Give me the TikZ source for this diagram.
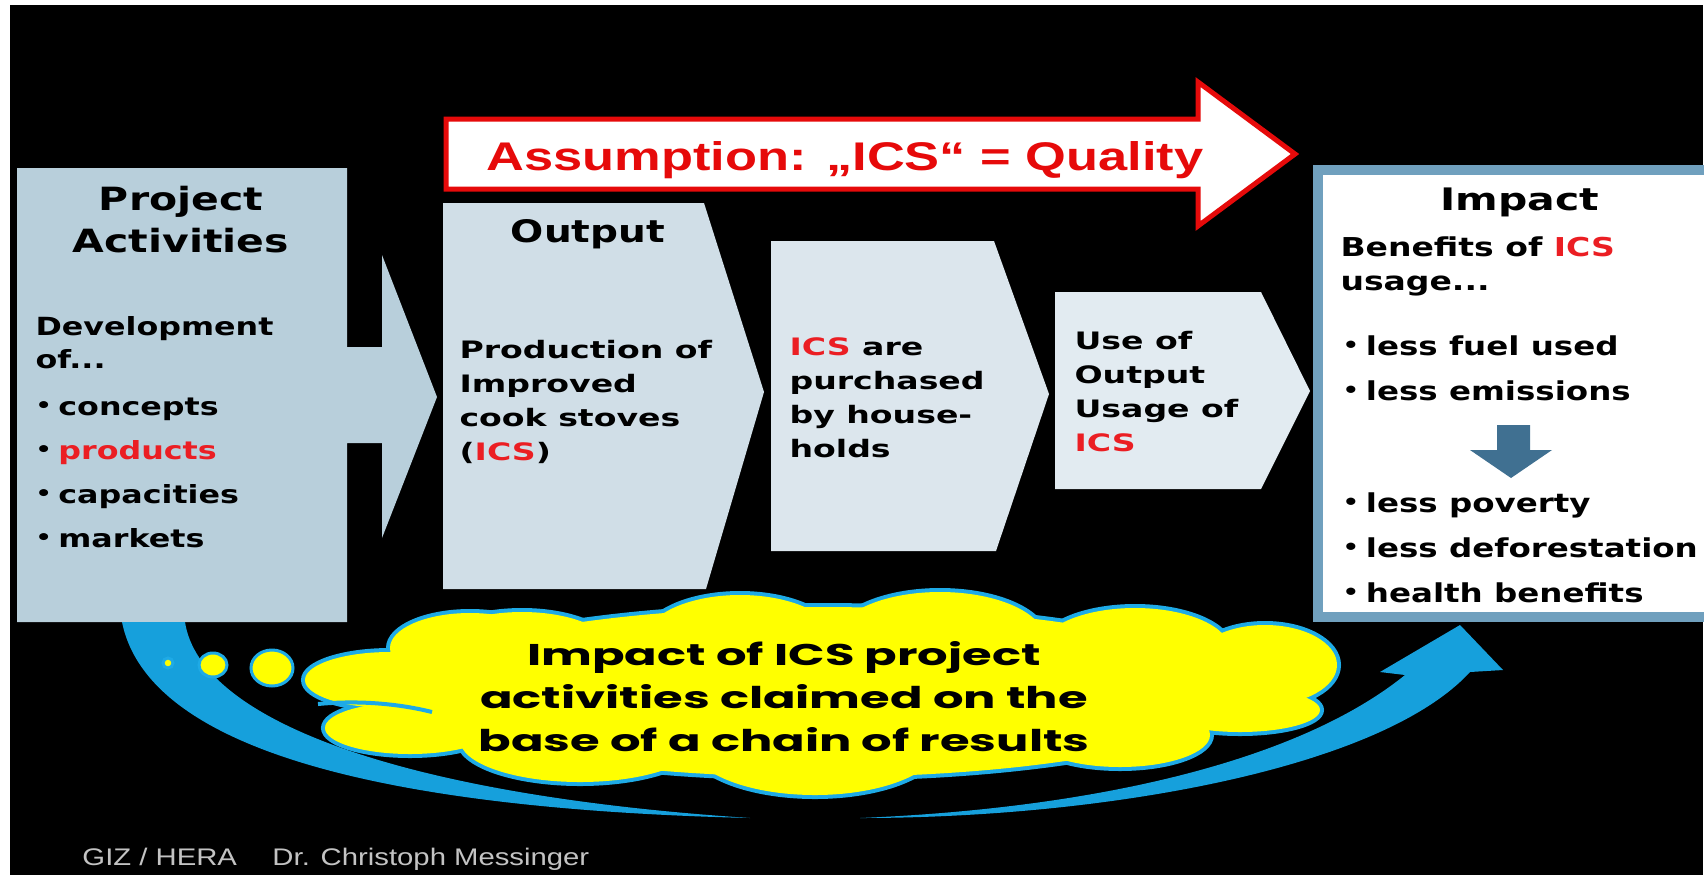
\documentclass[tikz,border=0pt]{standalone}
\usepackage{fontspec}
\setmainfont{Liberation Sans}
\newfontfamily\boxfont{DejaVu Sans}
\newfontfamily\cloudfont{Poppins}
\usepackage{xcolor}
\usepackage{graphicx}

\definecolor{actblue}{RGB}{184,207,219}
\definecolor{outblue}{RGB}{208,222,231}
\definecolor{buyblue}{RGB}{220,230,237}
\definecolor{useblue}{RGB}{226,235,241}
\definecolor{impframe}{RGB}{112,160,190}
\definecolor{downblue}{RGB}{64,112,145}
\definecolor{icsred}{RGB}{235,30,35}
\definecolor{assumred}{RGB}{230,10,10}
\definecolor{swooshblue}{RGB}{22,160,220}
\definecolor{cloudyellow}{RGB}{255,255,0}
\definecolor{cloudcyan}{RGB}{30,170,230}
\definecolor{footgray}{RGB}{195,195,195}

\newcommand{\bul}{\makebox[0.72em][l]{\raisebox{0.1em}{\scalebox{0.8}{•}}}}
\newcommand{\cloudpuffs}{390/680/85/28, 410/728/85/26, 470/648/80/35, 522/650/90/38,
  740/640/95/45, 940/640/105/48, 1135/650/95/42, 1265/665/72/40, 1240/710/80/22,
  1120/735/90/32, 815/743/125/52, 580/740/120/42, 820/692/420/85}

\tikzset{
  blocktext/.style={align=left, anchor=north west, inner sep=0pt},
  boxtext/.style={blocktext, font=\boxfont\bfseries\fontsize{12}{17}\selectfont, xscale=1.38},
  acttext/.style={blocktext, font=\boxfont\bfseries\fontsize{12.5}{16.5}\selectfont, xscale=1.27},
  imptext/.style={blocktext, font=\boxfont\bfseries\fontsize{13}{17}\selectfont, xscale=1.27},
  impbullets/.style={blocktext, font=\boxfont\bfseries\fontsize{13}{22.5}\selectfont, xscale=1.25},
  headtext/.style={font=\boxfont\bfseries\fontsize{15.5}{21}\selectfont, align=center,
    inner sep=0pt},
  foottext/.style={font=\fontsize{12}{14}\selectfont, text=footgray, inner sep=0pt,
    anchor=base west, xscale=1.22},
  bubbledot/.style={fill=cloudyellow, draw=cloudcyan, line width=1.5pt},
}

\begin{document}
\begin{tikzpicture}[x=0.5pt,y=-0.5pt]
  \useasboundingbox (0,0) rectangle (1704,875);
  \clip (0,0) rectangle (1704,875);
  \fill[white] (0,0) rectangle (1704,875);
  \fill[black] (10,5) rectangle (1703,875);

  % results chain
  \fill[actblue] (17,168) -- (347,168) -- (347,347) -- (382,347) -- (382,255) -- (437,397)
    -- (382,538) -- (382,443) -- (347,443) -- (347,622) -- (17,622) -- cycle;
  \fill[outblue] (443,203) -- (704,203) -- (764,392) -- (706,589) -- (443,589) -- cycle;
  \fill[buyblue] (771,241) -- (994,241) -- (1049,394) -- (996,551) -- (771,551) -- cycle;
  \fill[useblue] (1055,292) -- (1261,292) -- (1310,391) -- (1261,489) -- (1055,489) -- cycle;
  \draw[impframe, line width=5pt, fill=white] (1318,170) rectangle (1760,617);
  \fill[downblue] (1497,425) -- (1530,425) -- (1530,450) -- (1552,450) -- (1511,478)
    -- (1470,450) -- (1497,450) -- cycle;

  \draw[assumred, line width=2.5pt, fill=white, line join=miter] (446,119) -- (1198,119)
    -- (1198,82) -- (1295,154) -- (1198,226) -- (1198,189) -- (446,189) -- cycle;
  \node[font=\bfseries\fontsize{20}{24}\selectfont, text=assumred, inner sep=0pt,
    anchor=base, xscale=1.31] (assum) at (845,170) {Assumption: „ICS“ = Quality};

  \node[headtext, anchor=north, font=\boxfont\bfseries\fontsize{16}{21}\selectfont,
    xscale=1.28] (acttitle) at (181,186) {Project\\Activities};
  \node[acttext] (actlist) at (35,316) {Development\\of...\\[7pt]%
    \bul concepts\\[5.5pt]\bul\textcolor{icsred}{products}\\[5.5pt]\bul capacities\\[5.5pt]\bul markets};

  \node[headtext, anchor=base, xscale=1.26] (outtitle) at (588,242) {Output};
  \node[boxtext] (outtext) at (459,340)
    {Production of\\Improved\\cook stoves\\(\textcolor{icsred}{ICS})};
  \node[boxtext] (buytext) at (789,337)
    {\textcolor{icsred}{ICS} are\\purchased\\by house-\\holds};
  \node[boxtext] (usetext) at (1074,331)
    {Use of\\Output\\Usage of\\\textcolor{icsred}{ICS}};

  \node[headtext, anchor=base, xscale=1.32] (imptitle) at (1520,210) {Impact};
  \node[imptext] (impintro) at (1340,236) {Benefits of \textcolor{icsred}{ICS}\\usage...};
  \node[impbullets] (impfirst) at (1342,335) {\bul less fuel used\\\bul less emissions};
  \node[impbullets] (impsecond) at (1342,492)
    {\bul less poverty\\\bul less deforestation\\\bul health benefits};

  % swoosh under the chain
  \fill[swooshblue] (122,622) .. controls (150,760) and (420,810) .. (750,818)
    .. controls (400,795) and (200,720) .. (185,622) -- cycle;
  \fill[swooshblue] (860,818) .. controls (1100,818) and (1380,770) .. (1470,672)
    -- (1503,670) -- (1460,625) -- (1380,672) -- (1405,675)
    .. controls (1300,760) and (1100,808) .. (860,818) -- cycle;

  % thought bubble
  \draw[bubbledot] (168,663) ellipse [x radius=5, y radius=5];
  \draw[bubbledot] (213,665) ellipse [x radius=14, y radius=12];
  \draw[bubbledot] (272,668) ellipse [x radius=21, y radius=18];
  \foreach \cx/\cy/\rx/\ry in \cloudpuffs
    \draw[cloudcyan, line width=4pt] (\cx,\cy) ellipse [x radius=\rx, y radius=\ry];
  \foreach \cx/\cy/\rx/\ry in \cloudpuffs
    \fill[cloudyellow] (\cx,\cy) ellipse [x radius=\rx, y radius=\ry];
  \draw[cloudcyan, line width=2pt] (318,704) .. controls (360,700) and (400,704) .. (432,712);
  \node[font=\cloudfont\bfseries\fontsize{15}{21.5}\selectfont, align=center,
    inner sep=0pt, anchor=north, xscale=1.6] (claim) at (784,641)
    {Impact of ICS project\\activities claimed on the\\base of a chain of results};

  \node[foottext] (giz) at (82,865) {GIZ / HERA};
  \node[foottext] (author) at (272,865) {Dr. Christoph Messinger};
\end{tikzpicture}
\end{document}
